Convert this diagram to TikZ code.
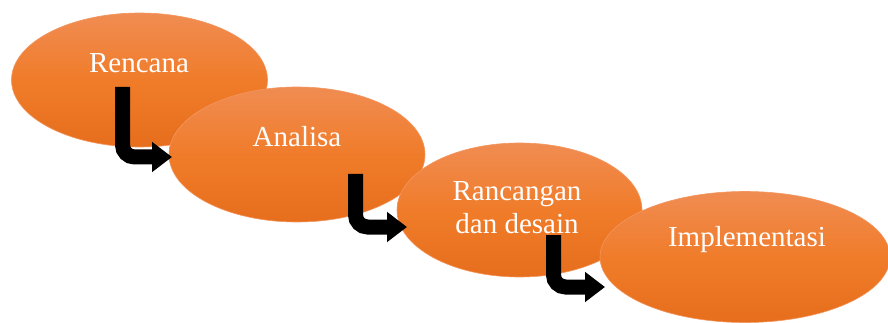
\documentclass[tikz,border=0pt]{standalone}
\usepackage{fontspec}
\setmainfont{Liberation Serif}
\usetikzlibrary{shapes.geometric,arrows.meta}
\definecolor{otop}{RGB}{240,140,82}
\definecolor{omid}{RGB}{240,124,42}
\definecolor{obot}{RGB}{230,110,28}
\definecolor{oedge}{RGB}{243,150,95}
\tikzset{
  blob/.style={ellipse, inner sep=0pt, top color=otop, bottom color=obot, middle color=omid, draw=oedge, line width=0.6pt},
  lbl/.style={text=white, font=\fontsize{29}{33}\selectfont, align=center, inner sep=0pt},
  bigarrow/.style={line width=15pt, rounded corners=12pt, -{Triangle[width=29pt,length=20pt]}}
}
\begin{document}
\begin{tikzpicture}[x=1pt,y=-1pt]
\useasboundingbox (0,0) rectangle (888,323);
\node[blob, minimum width=256pt, minimum height=134pt] (e1) at (139.5,80) {};
\node[blob, minimum width=256pt, minimum height=135pt] (e2) at (297,154.5) {};
\node[blob, minimum width=245pt, minimum height=134pt] (e3) at (519.5,210) {};
\node[blob, minimum width=290pt, minimum height=131pt] (e4) at (745,257) {};
\node[lbl] (t1) at (139,63) {Rencana};
\node[lbl] (t2) at (297,137) {Analisa};
\node[lbl] (t3) at (517,208) {Rancangan\\dan desain};
\node[lbl] (t4) at (747,240) {Implementasi};
\coordinate (s1) at (122.5,87);
\coordinate (f1) at (172,157);
\coordinate (s2) at (355.5,174);
\coordinate (f2) at (407,227);
\coordinate (s3) at (553.5,235);
\coordinate (f3) at (605,287);
\draw[bigarrow] (s1) |- (f1);
\draw[bigarrow] (s2) |- (f2);
\draw[bigarrow] (s3) |- (f3);
\end{tikzpicture}
\end{document}
